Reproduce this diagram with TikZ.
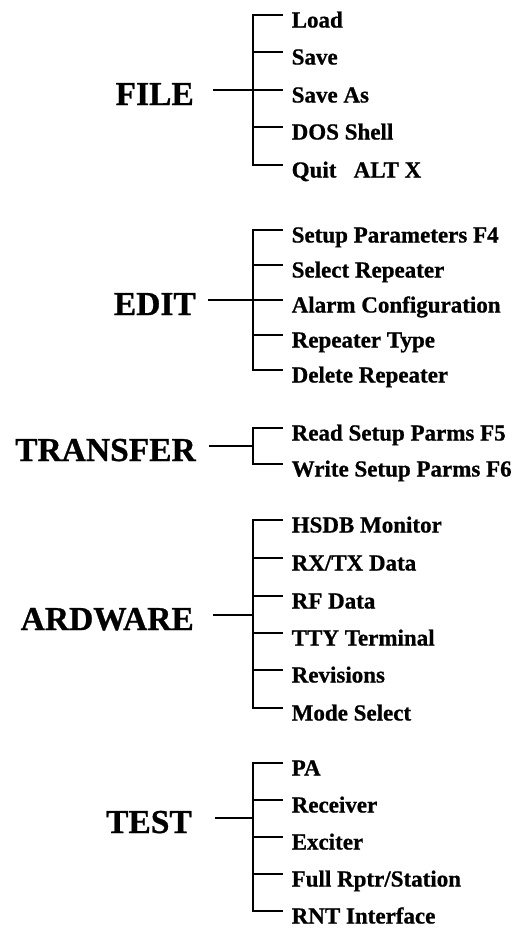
\documentclass[tikz,border=0pt]{standalone}
\usepackage{fontspec}
\setmainfont{Liberation Serif}[BoldFeatures={FakeBold=0.8}]
\begin{document}
\begin{tikzpicture}[x=1pt,y=-1pt,
  item/.style={anchor=west, font=\bfseries\fontsize{23}{23}\selectfont, text height=25pt, text depth=0pt, inner ysep=0pt, inner xsep=8.5pt},
  lab/.style={anchor=east, font=\bfseries\fontsize{33.5}{33.5}\selectfont, text height=30pt, text depth=0pt, inner sep=0pt},
  conn/.style={line width=2.1pt, line cap=butt, line join=miter}]
\useasboundingbox (0,0) rectangle (515,930);

% ---------- FILE ----------
\coordinate (f1) at (253,15);
\coordinate (f2) at (253,52);
\coordinate (f3) at (253,90);
\coordinate (f4) at (253,127);
\coordinate (f5) at (253,165);
\node[lab] (file) at (194,90) {FILE};
\node[item] (fi1) at ([xshift=30pt]f1) {Load};
\node[item] (fi2) at ([xshift=30pt]f2) {Save};
\node[item] (fi3) at ([xshift=30pt]f3) {Save As};
\node[item] (fi4) at ([xshift=30pt]f4) {DOS Shell};
\node[item] (fi5) at ([xshift=30pt]f5) {Quit\ \ \ ALT X};
\draw[conn] (fi1.west) -| (f5) -- (fi5.west);
\draw[conn] (f2) -- (fi2.west);
\draw[conn] (f3) -- (fi3.west);
\draw[conn] (f4) -- (fi4.west);
\draw[conn, shorten <=19pt] (file.east) -- (f3);

% ---------- EDIT ----------
\coordinate (e1) at (253,230);
\coordinate (e2) at (253,265);
\coordinate (e3) at (253,300);
\coordinate (e4) at (253,335);
\coordinate (e5) at (253,370);
\node[lab] (edit) at (196,300) {EDIT};
\node[item] (ei1) at ([xshift=30pt]e1) {Setup Parameters F4};
\node[item] (ei2) at ([xshift=30pt]e2) {Select Repeater};
\node[item] (ei3) at ([xshift=30pt]e3) {Alarm Configuration};
\node[item] (ei4) at ([xshift=30pt]e4) {Repeater Type};
\node[item] (ei5) at ([xshift=30pt]e5) {Delete Repeater};
\draw[conn] (ei1.west) -| (e5) -- (ei5.west);
\draw[conn] (e2) -- (ei2.west);
\draw[conn] (e3) -- (ei3.west);
\draw[conn] (e4) -- (ei4.west);
\draw[conn, shorten <=12pt] (edit.east) -- (e3);

% ---------- TRANSFER ----------
\coordinate (t1) at (253,428);
\coordinate (tm) at (253,446);
\coordinate (t2) at (253,464);
\node[lab] (transfer) at (196,446) {TRANSFER};
\node[item] (ti1) at ([xshift=30pt]t1) {Read Setup Parms F5};
\node[item] (ti2) at ([xshift=30pt]t2) {Write Setup Parms F6};
\draw[conn] (ti1.west) -| (t2) -- (ti2.west);
\draw[conn, shorten <=13pt] (transfer.east) -- (tm);

% ---------- ARDWARE ----------
\coordinate (a1) at (253,520);
\coordinate (a2) at (253,558);
\coordinate (a3) at (253,596);
\coordinate (am) at (253,615);
\coordinate (a4) at (253,633);
\coordinate (a5) at (253,670);
\coordinate (a6) at (253,708);
\node[lab] (ardware) at (194,615) {ARDWARE};
\node[item] (ai1) at ([xshift=30pt]a1) {HSDB Monitor};
\node[item] (ai2) at ([xshift=30pt]a2) {RX/TX Data};
\node[item] (ai3) at ([xshift=30pt]a3) {RF Data};
\node[item] (ai4) at ([xshift=30pt]a4) {TTY Terminal};
\node[item] (ai5) at ([xshift=30pt]a5) {Revisions};
\node[item] (ai6) at ([xshift=30pt]a6) {Mode Select};
\draw[conn] (ai1.west) -| (a6) -- (ai6.west);
\draw[conn] (a2) -- (ai2.west);
\draw[conn] (a3) -- (ai3.west);
\draw[conn] (a4) -- (ai4.west);
\draw[conn] (a5) -- (ai5.west);
\draw[conn, shorten <=19pt] (ardware.east) -- (am);

% ---------- TEST ----------
\coordinate (s1) at (253,763);
\coordinate (s2) at (253,800);
\coordinate (sm) at (253,818);
\coordinate (s3) at (253,837);
\coordinate (s4) at (253,874);
\coordinate (s5) at (253,911);
\node[lab] (test) at (192,818) {TEST};
\node[item] (si1) at ([xshift=30pt]s1) {PA};
\node[item] (si2) at ([xshift=30pt]s2) {Receiver};
\node[item] (si3) at ([xshift=30pt]s3) {Exciter};
\node[item] (si4) at ([xshift=30pt]s4) {Full Rptr/Station};
\node[item] (si5) at ([xshift=30pt]s5) {RNT Interface};
\draw[conn] (si1.west) -| (s5) -- (si5.west);
\draw[conn] (s2) -- (si2.west);
\draw[conn] (s3) -- (si3.west);
\draw[conn] (s4) -- (si4.west);
\draw[conn, shorten <=23pt] (test.east) -- (sm);
\end{tikzpicture}
\end{document}
